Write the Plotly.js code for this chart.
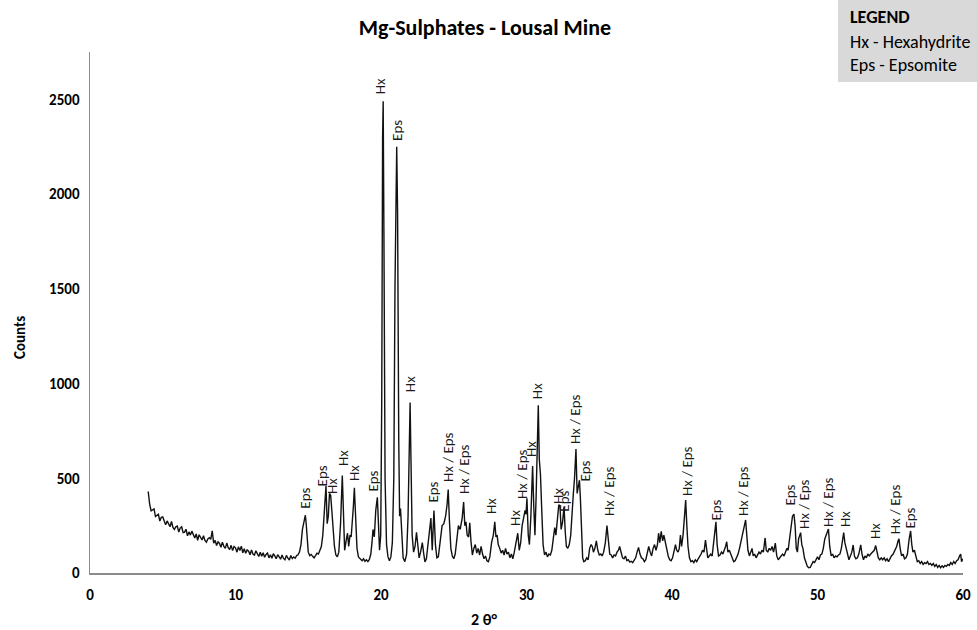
<!DOCTYPE html>
<html><head><meta charset="utf-8">
<script src="https://cdn.plot.ly/plotly-3.0.1.min.js"></script>
<style>html,body{margin:0;padding:0;background:#fff}#chart{width:977px;height:630px}</style>
</head><body><div id="chart"></div>
<script>
const twoTheta = [
4.0,4.05,4.1,4.2,4.3,4.4,4.5,4.6,4.7,4.8,
4.9,5.0,5.1,5.2,5.3,5.4,5.5,5.6,5.7,5.8,
5.9,6.0,6.1,6.2,6.3,6.4,6.5,6.6,6.7,6.8,
6.9,7.0,7.1,7.2,7.3,7.4,7.5,7.6,7.7,7.8,
7.9,8.0,8.1,8.2,8.3,8.4,8.45,8.5,8.6,8.7,
8.8,8.9,9.0,9.1,9.2,9.3,9.4,9.5,9.6,9.7,
9.8,9.9,10.0,10.1,10.2,10.3,10.4,10.5,10.6,10.7,
10.8,10.9,11.0,11.1,11.2,11.3,11.4,11.5,11.6,11.7,
11.8,11.9,12.0,12.1,12.2,12.3,12.4,12.5,12.6,12.7,
12.8,12.9,13.0,13.1,13.2,13.3,13.4,13.5,13.6,13.7,
13.8,13.9,14.0,14.1,14.2,14.3,14.4,14.5,14.6,14.7,
14.8,14.86,14.94,15.0,15.1,15.2,15.3,15.4,15.5,15.6,
15.7,15.8,15.9,16.0,16.08,16.16,16.22,16.3,16.38,16.46,
16.54,16.62,16.7,16.8,16.9,17.0,17.1,17.22,17.34,17.42,
17.5,17.6,17.7,17.78,17.87,17.95,18.03,18.1,18.17,18.25,
18.35,18.45,18.6,18.7,18.8,18.9,19.0,19.1,19.2,19.3,
19.38,19.45,19.54,19.64,19.75,19.82,19.9,19.98,20.05,20.11,
20.15,20.2,20.28,20.38,20.48,20.58,20.68,20.78,20.88,20.96,
21.0,21.04,21.08,21.14,21.22,21.28,21.34,21.42,21.52,21.64,
21.76,21.86,21.94,22.0,22.06,22.14,22.24,22.34,22.44,22.52,
22.62,22.72,22.84,22.94,23.02,23.12,23.24,23.34,23.43,23.52,
23.58,23.64,23.74,23.84,23.94,24.06,24.2,24.32,24.44,24.54,
24.62,24.7,24.8,24.9,25.0,25.1,25.22,25.32,25.44,25.58,
25.68,25.76,25.84,25.92,26.02,26.1,26.18,26.28,26.38,26.48,
26.58,26.68,26.78,26.88,26.98,27.08,27.18,27.28,27.38,27.48,
27.6,27.72,27.82,27.9,27.98,28.06,28.16,28.26,28.36,28.46,
28.56,28.66,28.76,28.86,28.96,29.06,29.16,29.24,29.32,29.4,
29.5,29.6,29.7,29.8,29.9,29.97,30.03,30.12,30.2,30.3,
30.42,30.5,30.58,30.66,30.74,30.81,30.88,30.96,31.04,31.14,
31.24,31.34,31.44,31.54,31.64,31.74,31.84,31.94,32.02,32.12,
32.22,32.3,32.38,32.48,32.58,32.66,32.74,32.84,32.94,33.04,
33.14,33.22,33.3,33.4,33.48,33.56,33.64,33.7,33.78,33.86,
33.94,34.04,34.14,34.24,34.34,34.44,34.52,34.6,34.7,34.8,
34.9,35.0,35.1,35.2,35.3,35.42,35.53,35.62,35.72,35.82,
35.92,36.02,36.12,36.22,36.32,36.4,36.5,36.6,36.7,36.8,
36.9,37.0,37.1,37.2,37.3,37.4,37.5,37.6,37.7,37.8,
37.9,38.0,38.1,38.2,38.3,38.4,38.5,38.6,38.7,38.8,
38.9,39.0,39.08,39.16,39.26,39.36,39.44,39.54,39.64,39.74,
39.84,39.94,40.04,40.14,40.24,40.32,40.42,40.5,40.58,40.66,
40.76,40.86,40.94,41.02,41.1,41.2,41.3,41.4,41.5,41.6,
41.7,41.8,41.9,42.0,42.1,42.2,42.3,42.38,42.46,42.56,
42.66,42.76,42.86,42.95,43.02,43.1,43.2,43.3,43.4,43.5,
43.6,43.68,43.76,43.84,43.94,44.04,44.14,44.24,44.34,44.44,
44.54,44.64,44.74,44.84,44.94,45.06,45.14,45.22,45.32,45.42,
45.5,45.58,45.68,45.78,45.88,45.98,46.08,46.18,46.28,46.4,
46.48,46.58,46.68,46.78,46.88,46.98,47.1,47.2,47.3,47.4,
47.5,47.6,47.7,47.8,47.9,47.98,48.08,48.18,48.28,48.38,
48.46,48.54,48.62,48.7,48.78,48.84,48.92,49.0,49.1,49.2,
49.3,49.4,49.5,49.6,49.7,49.8,49.9,50.0,50.1,50.2,
50.3,50.4,50.5,50.6,50.68,50.75,50.84,50.94,51.04,51.14,
51.24,51.34,51.44,51.54,51.64,51.72,51.8,51.88,51.96,52.06,
52.16,52.26,52.36,52.45,52.54,52.64,52.74,52.84,52.92,52.97,
53.06,53.16,53.26,53.36,53.46,53.56,53.66,53.78,53.9,54.0,
54.08,54.18,54.28,54.38,54.48,54.58,54.68,54.78,54.88,54.98,
55.08,55.2,55.32,55.44,55.54,55.6,55.68,55.78,55.88,55.98,
56.08,56.18,56.3,56.4,56.48,56.56,56.66,56.76,56.86,56.96,
57.06,57.16,57.26,57.36,57.46,57.56,57.66,57.76,57.86,57.96,
58.06,58.16,58.26,58.36,58.46,58.56,58.66,58.76,58.86,58.96,
59.06,59.16,59.26,59.36,59.46,59.56,59.66,59.76,59.84,59.9,
60.0
];
const counts = [
430,372,364,328,334,338,298,303,310,274,
294,296,269,254,275,262,244,272,240,230,
244,248,216,237,244,213,216,231,196,217,
200,221,204,185,206,173,202,191,174,197,
172,163,180,186,178,222,200,158,172,145,
165,156,136,163,140,130,158,134,124,146,
118,140,133,110,138,119,142,107,128,104,
122,115,96,121,100,94,117,104,87,110,
89,107,83,98,105,80,96,78,102,90,
75,97,82,73,95,77,70,93,78,69,
92,76,85,78,92,96,112,150,230,280,
305,260,170,110,92,98,88,80,92,105,
100,118,140,200,300,430,460,260,300,420,
410,330,250,140,95,85,110,260,515,280,
120,170,210,140,200,190,260,350,450,300,
130,85,70,65,75,62,70,60,72,100,
160,230,190,330,400,240,120,200,900,2300,
2490,1800,500,150,85,65,85,160,500,1500,
1950,2000,2250,1900,700,300,340,200,80,60,
100,300,700,900,600,200,110,140,215,140,
80,110,160,100,58,75,150,230,290,120,
220,330,150,80,85,150,250,260,300,360,
440,280,130,90,75,100,200,250,230,290,
375,250,270,200,190,265,170,95,130,150,
105,130,95,140,100,75,90,65,60,85,
160,200,270,190,200,150,130,105,120,95,
130,100,110,80,100,75,110,150,170,210,
120,160,250,300,330,310,395,200,150,300,
565,350,200,400,700,885,600,520,350,150,
95,110,85,100,95,120,180,240,200,280,
360,355,230,270,350,220,140,130,150,200,
350,420,500,654,420,470,490,400,180,80,
60,65,80,70,130,150,140,110,130,170,
120,95,100,90,110,160,250,160,100,95,
80,95,90,110,120,140,100,80,75,90,
65,70,58,62,55,65,80,110,135,100,
80,75,60,70,110,140,110,90,130,150,
120,150,210,160,220,170,200,160,140,90,
70,65,80,110,150,120,110,130,200,140,
200,300,385,250,140,80,60,65,55,70,
60,75,85,100,120,110,174,110,80,90,
100,90,150,230,270,150,90,95,110,100,
120,140,165,110,120,100,75,60,65,80,
100,130,170,210,250,280,200,120,90,110,
130,90,100,80,95,110,100,120,110,185,
120,110,130,120,140,110,158,90,70,80,
95,100,90,110,130,120,180,260,300,311,
250,130,110,180,200,213,150,130,80,50,
35,28,30,45,60,55,75,85,70,95,
100,130,180,200,210,232,140,90,100,80,
90,85,95,100,130,170,213,160,130,100,
70,90,110,148,90,75,80,100,130,148,
100,70,90,80,100,90,100,110,120,145,
110,80,70,80,70,80,65,75,60,80,
90,100,120,140,170,180,130,90,100,75,
80,100,180,222,150,110,120,80,60,65,
50,60,45,55,50,60,45,50,40,50,
35,45,30,40,28,38,30,40,35,45,
40,55,45,60,50,65,70,90,100,60,
75
];

const labelText = ['Eps','Eps','Hx','Hx','Hx','Eps','Hx','Eps','Hx','Eps',
  'Hx / Eps','Hx / Eps','Hx','Hx','Hx / Eps','Hx','Hx','Hx','Eps','Hx / Eps',
  'Eps','Hx / Eps','Hx / Eps','Eps','Hx / Eps','Eps','Hx / Eps','Hx / Eps','Hx','Hx',
  'Hx / Eps','Eps'];
const labelX = [14.78,16.01,16.63,17.39,18.14,19.45,19.93,21.10,21.99,23.57,
  24.60,25.70,27.56,29.21,29.69,30.31,30.72,32.16,32.58,33.33,
  34.02,35.67,41.03,42.96,44.88,48.11,49.07,50.72,51.89,53.95,
  55.33,56.36];
const labelY = [332,454,411,559,480,422,2521,2273,949,369,
  475,411,306,243,385,607,912,359,316,675,
  480,295,401,269,295,348,227,237,237,174,
  200,227];

const xTicks = [0,10,20,30,40,50,60];
const yTicks = [0,500,1000,1500,2000,2500];
const chartTitle = 'Mg-Sulphates - Lousal Mine';
const xTitle = '2 θ°';
const yTitle = 'Counts';
const legendLines = ['LEGEND','Hx - Hexahydrite','Eps - Epsomite'];

const FONT = 'Carlito, Lato, "Open Sans", sans-serif';

const annotations = labelText.map((t, i) => ({
  x: labelX[i], y: labelY[i], xref: 'x', yref: 'y', text: t,
  showarrow: false, textangle: -90, xanchor: 'center', yanchor: 'bottom',
  borderpad: 0, font: {family: FONT, size: 15, color: '#1a1a1a'}
}));

annotations.push({x: 0.451, y: -0.09, xref: 'paper', yref: 'paper', text: '<b>' + xTitle + '</b>',
  showarrow: false, xanchor: 'center', yanchor: 'middle', font: {family: FONT, size: 16, color: '#000'}});
annotations.push({x: -0.0802, y: 0.453, xref: 'paper', yref: 'paper', text: '<b>' + yTitle + '</b>',
  showarrow: false, textangle: -90, xanchor: 'center', yanchor: 'middle', font: {family: FONT, size: 15, color: '#000'}});

const legY = [1.0672, 1.0192, 0.975];
legendLines.forEach((t, i) => {
  annotations.push({x: 0.8683, y: legY[i], xref: 'paper', yref: 'paper',
    text: i === 0 ? '<b>' + t + '</b>' : t, showarrow: false, xanchor: 'left', yanchor: 'middle',
    font: {family: FONT, size: 18, color: '#000'}});
});

const trace = {
  x: twoTheta, y: counts, type: 'scatter', mode: 'lines',
  line: {color: '#111', width: 1.4}, hoverinfo: 'skip'
};

const layout = {
  width: 977, height: 630,
  margin: {l: 90, r: 14, t: 52, b: 57},
  paper_bgcolor: '#fff', plot_bgcolor: '#fff',
  showlegend: false,
  title: {text: '<b>' + chartTitle + '</b>', x: 0.4964, xref: 'container', xanchor: 'center',
    y: 0.957, yref: 'container', yanchor: 'middle', font: {family: FONT, size: 22, color: '#000'}},
  xaxis: {range: [0, 60], tickvals: xTicks, ticktext: xTicks.map(v => '<b>' + v + '</b>'),
    showgrid: false, zeroline: false, showline: true, linecolor: '#8c8c8c', linewidth: 2,
    ticks: 'outside', ticklen: 7, tickcolor: 'rgba(0,0,0,0)',
    tickfont: {family: FONT, size: 15, color: '#000'}, fixedrange: true},
  yaxis: {range: [0, 2750], tickvals: yTicks, ticktext: yTicks.map(v => '<b>' + v + '</b>'),
    showgrid: false, zeroline: false, showline: true, linecolor: '#8c8c8c', linewidth: 1.5,
    ticks: 'outside', ticklen: 6, tickcolor: 'rgba(0,0,0,0)',
    tickfont: {family: FONT, size: 15, color: '#000'}, fixedrange: true},
  shapes: [{type: 'rect', xref: 'paper', yref: 'paper', x0: 0.8568, x1: 1.02, y0: 0.9424, y1: 1.11,
    fillcolor: '#d9d9d9', line: {width: 0}, layer: 'below'}],
  annotations: annotations
};

Plotly.newPlot('chart', [trace], layout, {displayModeBar: false, staticPlot: true});
</script>
</body></html>
